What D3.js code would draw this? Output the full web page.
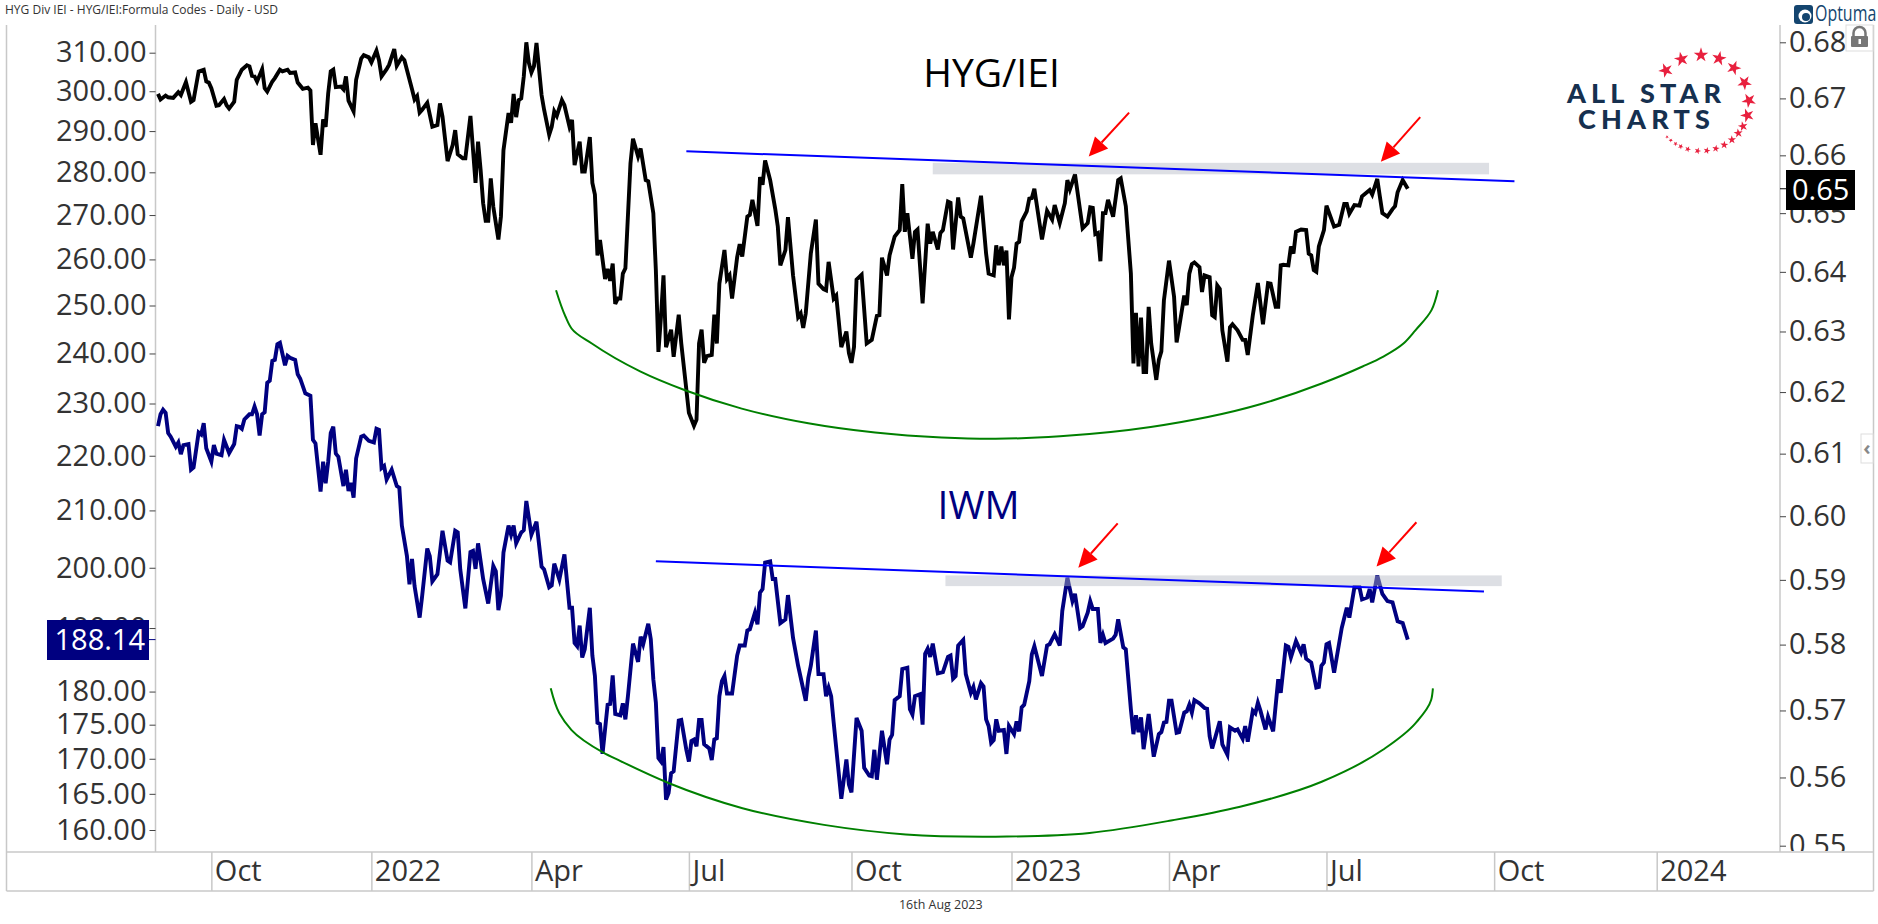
<!doctype html>
<html lang="en">
  <head>
    <meta charset="utf-8">
    <title>HYG/IEI vs IWM</title>
    <style>
      body{
        margin: 0;
        background: #fff;
      }
      text{
        font-family: "Open Sans", sans-serif;
      }
      .domain{
        display: none;
      }
    </style>
  </head>
  <body>
    <svg id="chart" width="1878" height="924"></svg>
    <script src="https://d3js.org/d3.v7.min.js"></script>
    <script>

      //bars are trading days counted from the first bar of the chart
      var hygBars = [
        0,1,3,4,6,8,9,11,13,14,
        16,18,19,20,21,23,24,26,27,28,
        30,31,33,35,36,37,38,39,41,42,
        43,45,46,48,49,51,52,54,55,57,
        59,60,61,62,64,65,66,67,68,69,
        70,72,73,74,75,77,78,80,81,83,
        84,86,87,88,90,91,93,94,96,97,
        100,101,102,103,104,106,108,110,111,112,
        114,116,117,118,120,121,123,125,126,127,
        128,129,130,131,132,134,135,136,138,139,
        140,141,142,143,144,145,146,147,148,149,
        151,152,154,155,156,157,159,160,162,163,
        164,166,167,168,170,171,172,173,174,176,177,
        178,179,180,181,182,183,184,186,187,189,
        190,192,193,195,196,197,198,199,200,202,
        203,205,206,208,209,211,212,213,214,215,
        216,218,219,220,221,223,224,225,226,228,
        229,230,232,233,234,236,237,238,239,241,
        243,244,245,247,248,250,252,253,254,255,
        257,259,260,262,263,264,266,267,269,271,
        272,273,274,275,277,279,281,283,284,285,
        287,288,290,292,293,294,295,297,298,299,
        301,303,304,305,307,308,309,311,312,313,
        315,316,317,320,321,324,326,327,329,
        330,331,332,333,334,335,336,337,338,339,
        340,342,343,344,345,348,350,352,353,355,
        357,358,359,361,364,366,367,368,369,370,
        371,372,373,374,376,378,379,381,383,384,
        385,386,387,388,389,390,391,393,394,395,
        396,398,400,401,402,404,405,406,407,408,
        410,411,412,414,415,416,417,418,419,421,
        422,423,425,427,428,429,431,433,435,437,
        438,440,441,442,443,445,446,447,448,450,
        452,453,454,455,456,457,459,460,463,465,
        467,468,469,471,473,474,477,478,480,481,
        482,484,486,487,488,490,492
      ];
      var hygValues = [
        .6708,.6698,.6705,.6702,.6701,.6711,.6706,.6729,.6694,.6697,
        .6748,.6751,.6730,.6728,.6718,.6687,.6688,.6699,.6688,.6682,
        .6694,.6733,.6751,.6759,.6757,.6740,.6739,.6730,.6752,.6718,
        .6712,.6730,.6736,.6751,.6748,.6751,.6745,.6746,.6728,.6717,
        .6719,.6714,.6618,.6656,.6601,.6663,.6650,.6709,.6748,.6751,
        .6720,.6721,.6716,.6739,.6696,.6677,.6733,.6771,.6777,.6773,
        .6764,.6785,.6768,.6739,.6752,.6760,.6788,.6758,.6773,.6768,
        .6716,.6698,.6704,.6675,.6680,.6692,.6650,.6653,.6691,.6668,
        .6590,.6618,.6644,.6602,.6595,.6595,.6669,.6552,.6624,.6575,
        .6517,.6487,.6487,.6560,.6511,.6455,.6494,.6609,.6674,.6657,
        .6708,.6667,.6697,.6700,.6739,.6800,.6763,.6746,.6757,.6799,
        .6706,.6680,.6636,.6650,.6677,.6669,.6697,.6688,.6650,.6662,
        .6583,.6624,.6572,.6572,.6632,.6552,.6532,.6428,.6454,.6388,.6405,
        .6385,.6414,.6346,.6355,.6355,.6397,.6406,.6586,.6629,.6598,
        .6612,.6557,.6555,.6500,.6402,.6266,.6324,.6394,.6274,.6303,
        .6258,.6328,.6280,.6204,.6166,.6145,.6155,.6280,.6303,.6248,
        .6259,.6261,.6328,.6280,.6380,.6437,.6388,.6394,.6355,.6425,
        .6447,.6426,.6494,.6497,.6523,.6478,.6562,.6549,.6591,.6557,
        .6507,.6477,.6411,.6437,.6493,.6394,.6324,.6330,.6306,.6330,
        .6431,.6489,.6380,.6371,.6369,.6417,.6355,.6360,.6274,.6300,
        .6264,.6248,.6274,.6387,.6395,.6280,.6286,.6326,.6327,.6424,
        .6394,.6428,.6460,.6471,.6550,.6468,.6500,.6422,.6468,.6472,
        .6347,.6482,.6448,.6468,.6438,.6466,.6471,.6520,.6518,.6438,
        .6527,.6494,.6491,.6424,.6448,.6530,.6431,.6397,.6394,
        .6445,.6411,.6443,.6411,.6436,.6320,.6391,.6407,.6448,.6451,
        .6486,.6503,.6525,.6526,.6542,.6455,.6504,.6489,.6514,.6483,
        .6517,.6557,.6541,.6567,.6474,.6483,.6510,.6509,.6464,.6466,
        .6418,.6500,.6500,.6523,.6494,.6557,.6560,.6512,.6397,.6247,
        .6331,.6242,.6323,.6233,.6233,.6341,.6280,.6220,.6253,.6267,
        .6352,.6419,.6358,.6282,.6307,.6360,.6344,.6397,.6413,.6416,
        .6408,.6366,.6394,.6391,.6327,.6324,.6377,.6371,.6302,.6250,
        .6307,.6312,.6302,.6286,.6286,.6261,.6327,.6381,.6312,.6381,
        .6380,.6341,.6341,.6411,.6412,.6411,.6443,.6431,.6468,.6472,
        .6471,.6431,.6428,.6403,.6400,.6443,.6471,.6513,.6477,.6480,
        .6516,.6516,.6499,.6514,.6513,.6529,.6540,.6532,.6559,.6529,
        .6500,.6494,.6507,.6512,.6536,.6557,.6542
      ];

      var iwmBars = [
        0,1,2,3,4,5,7,8,9,10,
        12,13,14,16,17,18,19,21,22,23,
        25,26,28,30,31,32,33,34,36,37,
        38,39,40,41,42,43,44,45,46,47,
        48,50,51,52,54,55,56,58,60,61,
        62,64,65,66,67,68,69,70,71,73,
        74,75,76,77,78,80,81,83,85,86,
        87,88,89,90,92,94,95,96,98,99,
        100,101,103,104,106,107,108,110,112,114,
        115,117,118,119,121,123,124,125,126,128,
        130,132,133,134,135,136,138,139,140,141,
        143,144,145,147,149,151,152,154,155,156,
        158,160,162,163,164,
        165,166,167,168,170,171,172,173,174,175,
        177,178,179,180,182,183,184,185,187,189,
        190,191,193,194,195,196,197,198,199,200,
        201,202,203,205,206,208,209,210,211,212,
        213,214,215,217,218,219,220,221,222,223,
        224,226,228,229,231,232,233,235,236,237,
        238,239,241,242,243,245,247,248,250,252,
        255,256,257,259,260,262,263,264,265,266,
        269,271,272,273,275,277,278,280,281,282,
        283,285,287,288,289,290,292,293,295,296,
        297,298,300,301,302,303,304,305,307,309,
        311,312,313,314,315,317,318,320,321,322,
        324,325,326,327,328,329,
        330,331,333,334,335,337,338,339,340,341,
        343,344,345,348,350,351,353,355,356,358,
        360,361,363,364,366,367,368,370,371,372,
        373,376,377,378,380,381,383,384,385,386,
        387,388,390,392,394,395,396,397,398,399,
        401,402,404,405,406,407,408,410,412,413,
        414,415,418,419,421,422,424,425,427,428,
        429,431,432,433,434,436,437,439,441,442,
        444,445,446,448,450,451,452,454,456,457,
        458,459,460,461,463,466,468,469,471,473,
        474,476,477,478,480,482,484,486,488,490,
        492
      ];
      var iwmValues = [
        225.6,227.9,228.8,228.2,224.3,223.6,221.7,222.5,220.3,222.0,
        222.2,217.4,217.8,224.4,224.0,226.2,221.4,218.9,222.0,220.4,
        220.1,223.0,220.5,222.2,225.6,225.5,225.1,226.9,227.9,227.9,
        229.4,227.9,223.8,227.9,228.3,234.1,234.5,238.5,238.7,241.9,
        242.2,237.6,239.5,239.1,238.7,235.8,234.9,232.0,231.5,223.0,
        222.3,213.4,218.9,214.9,218.9,224.3,225.5,220.4,219.8,214.4,
        217.4,213.5,215.0,212.3,219.5,223.6,223.8,222.8,222.5,225.1,
        224.9,217.7,218.1,215.6,217.4,214.4,214.1,207.3,202.0,197.2,
        201.5,196.9,191.7,195.3,203.3,202.0,197.7,198.9,206.4,201.2,
        200.9,206.4,206.1,199.7,193.2,202.7,202.9,199.8,204.2,198.1,
        194.0,200.3,199.4,192.9,195.3,202.6,207.3,205.7,207.3,204.2,
        206.1,206.5,211.7,205.7,208.0,200.2,199.7,196.7,197.0,200.7,
        198.0,202.3,193.3,193.3,187.6,
        187.1,190.4,185.3,186.6,193.3,185.6,182.4,175.3,175.1,170.7,
        178.0,178.1,182.5,176.6,176.4,178.2,175.8,179.3,187.5,184.6,
        188.6,187.4,190.7,188.2,181.9,178.3,170.1,169.6,171.7,164.2,
        165.1,167.9,168.2,175.6,175.7,171.3,169.6,172.6,172.8,171.8,
        175.7,175.7,172.1,171.5,169.8,172.8,173.0,179.3,181.6,182.4,
        179.7,179.7,185.6,187.2,187.2,189.6,189.8,192.5,190.6,195.8,
        196.4,200.9,201.1,198.1,198.1,190.8,191.4,195.4,188.4,184.0,
        178.6,182.1,184.0,189.6,182.7,182.7,179.3,180.6,179.3,175.3,
        164.3,169.9,166.3,165.2,176.0,174.1,168.7,167.6,167.5,171.3,
        167.0,174.1,169.2,172.8,173.5,178.7,179.3,183.5,183.7,177.3,
        176.5,179.3,179.6,175.0,185.9,186.7,185.4,187.5,182.8,183.0,
        185.4,185.6,182.0,182.4,187.2,188.1,182.7,179.8,180.7,178.8,
        181.3,180.8,175.8,174.8,172.3,172.7,
        175.8,174.1,174.2,170.7,174.8,173.6,175.5,174.0,177.6,178.0,
        181.6,185.8,187.1,182.4,187.2,187.4,189.0,187.2,192.8,198.3,
        194.4,195.6,190.0,190.3,192.5,194.4,193.1,193.1,187.6,188.9,
        187.6,188.3,188.9,191.4,186.9,186.6,177.3,173.6,176.4,173.9,
        176.1,171.4,176.6,170.3,173.6,173.9,175.3,175.4,178.6,178.6,
        173.8,173.9,176.8,177.0,178.0,176.8,178.7,178.2,177.5,177.4,
        173.3,171.5,175.5,172.1,170.6,174.6,174.1,174.3,172.9,174.8,
        172.5,177.1,176.7,178.3,177.1,174.3,176.2,174.0,181.9,179.8,
        187.2,187.0,185.3,187.9,186.1,187.4,185.1,184.5,180.6,180.7,
        184.0,184.5,187.4,187.6,182.9,190.0,193.3,191.7,196.7,196.7,
        194.7,195.0,196.4,194.2,198.7,195.6,194.4,194.2,191.1,190.8,
        188.14
      ];

      //drawn trendlines, rounded bottoms, resistance zones and arrows
      var hygTrendBars = [208, 534];
      var hygTrendValues = [.6607, .6555];
      var iwmTrendBars = [196, 522];
      var iwmTrendValues = [201.1, 196.0];

      var hygZoneBars = [305, 524];
      var hygZoneValues = [.6587, .6567];
      var iwmZoneBars = [310, 529];
      var iwmZoneValues = [198.7, 196.9];

      var hygArcBars = [156.7,160.4,162.8,170.8,189.8,207.5,229.8,256,282.3,308.5,329.7,355.1,390.8,433.9,458.1,474.2,482.2,490.3,495,501.4,503.9];
      var hygArcValues = [.6369,.6325,.6305,.6280,.6234,.6203,.6173,.6149,.6134,.6126,.6124,.6128,.6143,.6180,.6214,.6242,.6258,.6280,.6302,.6336,.6369];
      var iwmArcBars = [154.6,158,162.8,175.3,181.9,201.2,230.1,262.2,294.4,329.7,366.7,398.8,426,458.1,482.2,495,501.2,501.9];
      var iwmArcValues = [180.5,176.7,174.2,170.9,169.7,166.5,163.0,160.7,159.4,159.1,159.6,161.3,163.2,166.7,171.3,175.2,178.7,180.5];

      var hygArrowFrom = [[382.3, .6675], [496.9, .6667]];
      var hygArrowTo = [[366.4, .6598], [481.4, .6589]];
      var iwmArrowFrom = [[377.8, 207.7], [495.4, 207.9]];
      var iwmArrowTo = [[362.3, 200.0], [479.7, 200.2]];

      //axis labels
      var leftTicks = [160,165,170,175,180,190,200,210,220,230,240,250,260,270,280,290,300,310];
      var rightTicks = [.55,.56,.57,.58,.59,.60,.61,.62,.63,.64,.65,.66,.67,.68];
      var monthBars = [21,84,147,209,273,336,398,460,526,590];
      var monthLabels = ["Oct","2022","Apr","Jul","Oct","2023","Apr","Jul","Oct","2024"];

      //stars around the logo, degrees clockwise from the top
      var starAngles = [-47,-24,0,22,43,65,87,105,119,129,140,151,162,173,184,196,205,212,219,225];
      var starSizes = [66,66,66,66,66,66,66,60,30,26,22,20,17,15,14,12,10,7,6,4];

      var navy = "#000080";
      var svg = d3.select("#chart");

      //scales, both price axes are logarithmic
      var x = d3.scaleLinear().domain([0, 590]).range([158, 1656.7]);
      var yLeft = d3.scaleLog().domain([160, 310]).range([830, 52.7]);
      var yRight = d3.scaleLog().domain([.55, .68]).range([845.7, 42.3]);

      //axis frame
      var frame = svg.append("g").attr("stroke", "#c8c8c8").attr("stroke-width", 1.5);
      frame.append("line").attr("x1", 6.5).attr("x2", 6.5).attr("y1", 25).attr("y2", 891);
      frame.append("line").attr("x1", 155.5).attr("x2", 155.5).attr("y1", 25).attr("y2", 852);
      frame.append("line").attr("x1", 1780).attr("x2", 1780).attr("y1", 25).attr("y2", 852);
      frame.append("line").attr("x1", 1873.5).attr("x2", 1873.5).attr("y1", 25).attr("y2", 891);
      frame.append("line").attr("x1", 6.5).attr("x2", 1873.5).attr("y1", 852).attr("y2", 852);
      frame.append("line").attr("x1", 6.5).attr("x2", 1873.5).attr("y1", 891).attr("y2", 891);

      svg.append("defs").append("clipPath").attr("id", "plot-clip")
        .append("rect").attr("x", 0).attr("y", 25).attr("width", 1878).attr("height", 826);

      var axisLeft = svg.append("g")
        .attr("clip-path", "url(#plot-clip)")
        .append("g")
        .attr("transform", "translate(155.5,0)")
        .call(d3.axisLeft(yLeft).tickValues(leftTicks).tickFormat(d3.format(".2f")).tickSize(6).tickPadding(3));

      var axisRight = svg.append("g")
        .attr("clip-path", "url(#plot-clip)")
        .append("g")
        .attr("transform", "translate(1780,0)")
        .call(d3.axisRight(yRight).tickValues(rightTicks).tickFormat(d3.format(".2f")).tickSize(6).tickPadding(3));

      [axisLeft, axisRight].forEach(function(axis){
        axis.selectAll("text").style("font-size", "29px").attr("fill", "#333");
        axis.selectAll("line").attr("stroke", "#444");
      });

      //month separators, labels sit right of the line
      var axisBottom = svg.append("g")
        .attr("transform", "translate(0,852)")
        .call(d3.axisBottom(x).tickValues(monthBars).tickFormat(function(d, i){ return monthLabels[i]; }).tickSize(39));
      axisBottom.selectAll("line").attr("stroke", "#c8c8c8").attr("stroke-width", 1.5);
      axisBottom.selectAll("text")
        .attr("x", 3)
        .attr("y", 29)
        .attr("dy", 0)
        .attr("text-anchor", "start")
        .style("font-size", "29px")
        .attr("fill", "#333");

      //series
      var hygLine = d3.line()
        .x(function(d){ return x(d[0]); })
        .y(function(d){ return yRight(d[1]); });
      var iwmLine = d3.line()
        .x(function(d){ return x(d[0]); })
        .y(function(d){ return yLeft(d[1]); });

      svg.append("path")
        .attr("d", hygLine(d3.zip(hygBars, hygValues)))
        .attr("fill", "none")
        .attr("stroke", "#000")
        .attr("stroke-width", 3.9);

      svg.append("path")
        .attr("d", iwmLine(d3.zip(iwmBars, iwmValues)))
        .attr("fill", "none")
        .attr("stroke", navy)
        .attr("stroke-width", 3.9);

      //resistance zones go over the lines, they tint the peaks
      function drawZone(bars, values, y){
        svg.append("rect")
          .attr("x", x(bars[0]))
          .attr("y", y(values[0]))
          .attr("width", x(bars[1]) - x(bars[0]))
          .attr("height", y(values[1]) - y(values[0]))
          .attr("fill", "rgb(179,184,196)")
          .attr("fill-opacity", .45);
      }
      drawZone(hygZoneBars, hygZoneValues, yRight);
      drawZone(iwmZoneBars, iwmZoneValues, yLeft);

      //trendlines
      svg.append("path")
        .attr("d", hygLine(d3.zip(hygTrendBars, hygTrendValues)))
        .attr("fill", "none").attr("stroke", "#0000ff").attr("stroke-width", 2);
      svg.append("path")
        .attr("d", iwmLine(d3.zip(iwmTrendBars, iwmTrendValues)))
        .attr("fill", "none").attr("stroke", "#0000ff").attr("stroke-width", 2);

      //rounded bottoms
      svg.append("path")
        .attr("d", hygLine.curve(d3.curveCatmullRom.alpha(1))(d3.zip(hygArcBars, hygArcValues)))
        .attr("fill", "none").attr("stroke", "#008000").attr("stroke-width", 2);
      svg.append("path")
        .attr("d", iwmLine.curve(d3.curveCatmullRom.alpha(1))(d3.zip(iwmArcBars, iwmArcValues)))
        .attr("fill", "none").attr("stroke", "#008000").attr("stroke-width", 2);

      //red arrows
      function drawArrow(from, to, y){
        var x1 = x(from[0]), y1 = y(from[1]), x2 = x(to[0]), y2 = y(to[1]);
        var len = Math.sqrt((x2 - x1) * (x2 - x1) + (y2 - y1) * (y2 - y1));
        var ux = (x2 - x1) / len, uy = (y2 - y1) / len;
        var headLen = 19, headHalf = 9;
        var bx = x2 - ux * headLen, by = y2 - uy * headLen;
        svg.append("line")
          .attr("x1", x1).attr("y1", y1).attr("x2", bx).attr("y2", by)
          .attr("stroke", "#ff0000").attr("stroke-width", 2);
        svg.append("polygon")
          .attr("points", [
            [x2, y2],
            [bx - uy * headHalf, by + ux * headHalf],
            [bx + uy * headHalf, by - ux * headHalf]
          ].join(" "))
          .attr("fill", "#ff0000");
      }
      hygArrowFrom.forEach(function(d, i){ drawArrow(d, hygArrowTo[i], yRight); });
      iwmArrowFrom.forEach(function(d, i){ drawArrow(d, iwmArrowTo[i], yLeft); });

      //chart labels
      svg.append("text").attr("x", 991.5).attr("y", 87).attr("text-anchor", "middle")
        .style("font-size", "39px").attr("fill", "#000").text("HYG/IEI");
      svg.append("text").attr("x", 978.5).attr("y", 519).attr("text-anchor", "middle")
        .style("font-size", "39px").attr("fill", navy).text("IWM");

      //last value boxes
      svg.append("rect").attr("x", 47).attr("y", 620).attr("width", 102).attr("height", 40).attr("fill", navy);
      svg.append("line").attr("x1", 149).attr("x2", 155.5)
        .attr("y1", yLeft(iwmValues[iwmValues.length - 1])).attr("y2", yLeft(iwmValues[iwmValues.length - 1]))
        .attr("stroke", navy);
      svg.append("text").attr("x", 145).attr("y", 650).attr("text-anchor", "end")
        .style("font-size", "29px").attr("fill", "#fff").text("188.14");

      svg.append("rect").attr("x", 1786).attr("y", 170).attr("width", 69).attr("height", 40).attr("fill", "#000");
      svg.append("line").attr("x1", 1780).attr("x2", 1786)
        .attr("y1", yRight(hygValues[hygValues.length - 1])).attr("y2", yRight(hygValues[hygValues.length - 1]))
        .attr("stroke", "#000");
      svg.append("text").attr("x", 1792).attr("y", 200)
        .style("font-size", "29px").attr("fill", "#fff").text("0.65");

      //title and date
      svg.append("text").attr("x", 5).attr("y", 14).attr("textLength", 273).attr("lengthAdjust", "spacingAndGlyphs")
        .style("font-size", "12.5px").attr("fill", "#333").text("HYG Div IEI - HYG/IEI:Formula Codes - Daily - USD");
      svg.append("text").attr("x", 899).attr("y", 909).attr("textLength", 83.5).attr("lengthAdjust", "spacingAndGlyphs")
        .style("font-size", "12.5px").attr("fill", "#333").text("16th Aug 2023");

      //Optuma mark
      svg.append("rect").attr("x", 1794).attr("y", 5).attr("width", 19).attr("height", 19).attr("rx", 3).attr("fill", "#14456f");
      svg.append("circle").attr("cx", 1805).attr("cy", 16).attr("r", 6.5).attr("fill", "#fff");
      svg.append("circle").attr("cx", 1806).attr("cy", 17).attr("r", 4).attr("fill", "#14456f");
      svg.append("text").attr("transform", "translate(1815,21) scale(.76,1)")
        .style("font-size", "21px").attr("fill", "#14456f").text("Optuma");

      //lock button
      var lock = svg.append("g");
      lock.append("rect").attr("x", 1846).attr("y", 25).attr("width", 27).attr("height", 26)
        .attr("fill", "#fff").attr("fill-opacity", .7).attr("stroke", "#ddd");
      lock.append("path").attr("d", "M1853.5 37v-4a6 6 0 0 1 12 0v4")
        .attr("fill", "none").attr("stroke", "#777").attr("stroke-width", 2.5);
      lock.append("rect").attr("x", 1851).attr("y", 36).attr("width", 17).attr("height", 11).attr("rx", 1).attr("fill", "#777");
      lock.append("rect").attr("x", 1858.5).attr("y", 39).attr("width", 2.5).attr("height", 5).attr("fill", "#fff");

      //collapse button
      svg.append("rect").attr("x", 1861).attr("y", 434).attr("width", 12).attr("height", 29)
        .attr("fill", "#fff").attr("stroke", "#ddd");
      svg.append("text").attr("x", 1867).attr("y", 455).attr("text-anchor", "middle")
        .style("font-size", "20px").style("font-weight", 700).attr("fill", "#888").text("‹");

      //All Star Charts logo
      svg.append("text").attr("x", 1567).attr("y", 103).attr("textLength", 154).attr("lengthAdjust", "spacing")
        .style("font-family", "Lato").style("font-size", "27px").style("font-weight", 900).attr("fill", "#16304f").text("ALL STAR");
      svg.append("text").attr("x", 1578).attr("y", 129).attr("textLength", 132).attr("lengthAdjust", "spacing")
        .style("font-family", "Lato").style("font-size", "27px").style("font-weight", 900).attr("fill", "#16304f").text("CHARTS");

      svg.append("g").selectAll("path")
        .data(starAngles)
        .enter()
        .append("path")
        .attr("d", function(d, i){ return d3.symbol().type(d3.symbolStar).size(starSizes[i])(); })
        .attr("transform", function(d){
          var a = d * Math.PI / 180;
          return "translate(" + (1701 + 48 * Math.sin(a)) + "," + (103 - 48 * Math.cos(a)) + ") rotate(" + (d / 2) + ")";
        })
        .attr("fill", "#e8203e");

    </script>
  </body>
</html>
